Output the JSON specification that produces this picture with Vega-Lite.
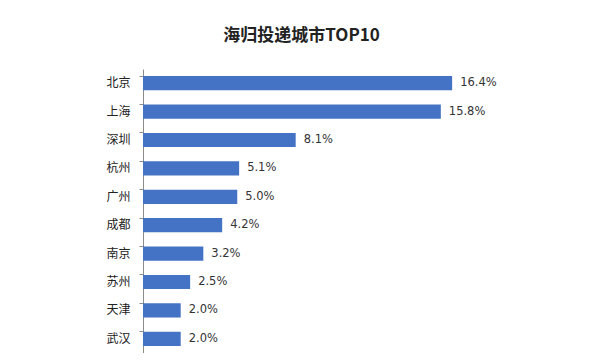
{
  "$schema": "https://vega.github.io/schema/vega-lite/v6.json",
  "autosize": "none",
  "padding": {"left": 143, "top": 69, "right": 0, "bottom": 0},
  "width": 377,
  "height": 284,
  "background": "white",
  "title": {
    "text": "海归投递城市TOP10",
    "font": "Noto Sans CJK SC",
    "fontSize": 17,
    "fontWeight": "bold",
    "color": "#222222",
    "anchor": "middle",
    "dx": -30,
    "offset": 24
  },
  "data": {
    "values": [
      {"city": "北京", "pct": 0.164},
      {"city": "上海", "pct": 0.158},
      {"city": "深圳", "pct": 0.081},
      {"city": "杭州", "pct": 0.051},
      {"city": "广州", "pct": 0.050},
      {"city": "成都", "pct": 0.042},
      {"city": "南京", "pct": 0.032},
      {"city": "苏州", "pct": 0.025},
      {"city": "天津", "pct": 0.020},
      {"city": "武汉", "pct": 0.020}
    ]
  },
  "encoding": {
    "y": {
      "field": "city",
      "type": "nominal",
      "sort": null,
      "scale": {"paddingInner": 0.5, "paddingOuter": 0.25},
      "axis": {
        "title": null,
        "bandPosition": 0,
        "domainColor": "#8c8c8c",
        "tickColor": "#8c8c8c",
        "tickSize": 4,
        "labelPadding": 9,
        "labelFont": "Noto Sans CJK SC",
        "labelFontSize": 12,
        "labelColor": "#222222",
        "labelAlign": "right"
      }
    },
    "x": {
      "field": "pct",
      "type": "quantitative",
      "scale": {"domain": [0, 0.2], "nice": false},
      "axis": null
    }
  },
  "layer": [
    {"mark": {"type": "bar", "color": "#4472C4"}},
    {
      "mark": {"type": "text", "align": "left", "dx": 8, "font": "DejaVu Sans", "fontSize": 11.5, "color": "#333333"},
      "encoding": {"text": {"field": "pct", "type": "quantitative", "format": ".1%"}}
    }
  ],
  "config": {"view": {"stroke": null}}
}
